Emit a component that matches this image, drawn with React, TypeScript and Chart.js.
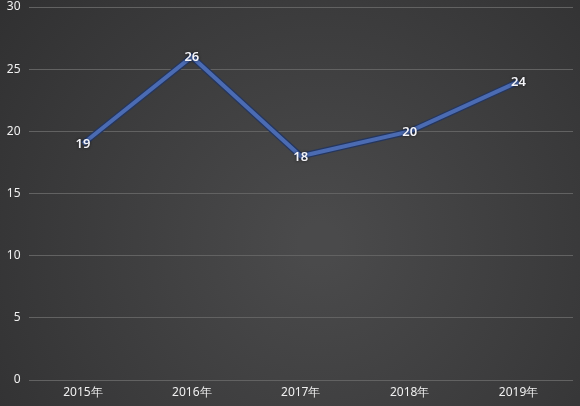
import React, { useEffect, useRef } from "react";
import { Chart, registerables } from "chart.js";

Chart.register(...registerables);

const categories = ["2015年", "2016年", "2017年", "2018年", "2019年"];
const values = [19, 26, 18, 20, 24];
const yMin = 0;
const yMax = 30;
const yStep = 5;

const bgPlugin = {
  id: "bgPlugin",
  beforeDraw(chart: any) {
    const { ctx, width, height } = chart;
    ctx.save();
    const g = ctx.createRadialGradient(width * 0.55, height * 0.6, 20, width * 0.55, height * 0.6, width * 0.7);
    g.addColorStop(0, "#4a4a4b");
    g.addColorStop(1, "#303031");
    ctx.fillStyle = g;
    ctx.fillRect(0, 0, width, height);
    ctx.restore();
  },
};

const labelPlugin = {
  id: "labelPlugin",
  afterDatasetsDraw(chart: any) {
    const { ctx } = chart;
    const meta = chart.getDatasetMeta(1);
    ctx.save();
    ctx.font = "600 13px 'Noto Sans', 'DejaVu Sans', sans-serif";
    ctx.textAlign = "center";
    ctx.textBaseline = "middle";
    ctx.shadowColor = "rgba(0,0,0,0.7)";
    ctx.shadowBlur = 3;
    meta.data.forEach((pt: any, i: number) => {
      ctx.fillStyle = "#f4f4f8";
      ctx.fillText(String(values[i]), pt.x, pt.y + 1);
    });
    ctx.restore();
  },
};

export default function App() {
  const ref = useRef<HTMLCanvasElement>(null);
  useEffect(() => {
    document.body.style.margin = "0";
    const chart = new Chart(ref.current!, {
      type: "line",
      data: {
        labels: categories,
        datasets: [
          {
            data: values,
            borderColor: "#24365f",
            borderWidth: 6.5,
            pointRadius: 0,
            tension: 0,
            order: 2,
          },
          {
            data: values,
            borderColor: "#4b6bb2",
            borderWidth: 4,
            pointRadius: 0,
            tension: 0,
            order: 1,
          },
        ],
      },
      options: {
        animation: false,
        responsive: false,
        maintainAspectRatio: false,
        layout: { padding: { top: 7, right: 7, left: 0, bottom: 0 } },
        plugins: { legend: { display: false }, tooltip: { enabled: false } },
        scales: {
          x: {
            offset: true,
            grid: { display: false },
            border: { display: false },
            ticks: {
              color: "#f0f0f0",
              font: { size: 12, family: "'Noto Sans', 'DejaVu Sans', sans-serif" },
              padding: -3,
              maxRotation: 0,
            },
            afterFit(scale: any) {
              scale.height = 26;
              scale.paddingLeft = 0;
              scale.paddingRight = 0;
            },
          },
          y: {
            min: yMin,
            max: yMax,
            ticks: {
              stepSize: yStep,
              color: "#f0f0f0",
              font: { size: 12, family: "'Noto Sans', 'DejaVu Sans', sans-serif" },
              padding: 8,
            },
            grid: { color: "#626262", lineWidth: 1, drawTicks: false },
            border: { display: false },
            afterFit(scale: any) {
              scale.width = 28.5;
              scale.paddingTop = 0;
              scale.paddingBottom = 0;
            },
          },
        },
      },
      plugins: [bgPlugin, labelPlugin],
    });
    return () => chart.destroy();
  }, []);
  return (
    <div style={{ position: "fixed", left: 0, top: 0, width: 580, height: 406 }}>
      <canvas ref={ref} width={580} height={406} style={{ width: 580, height: 406 }} />
    </div>
  );
}
